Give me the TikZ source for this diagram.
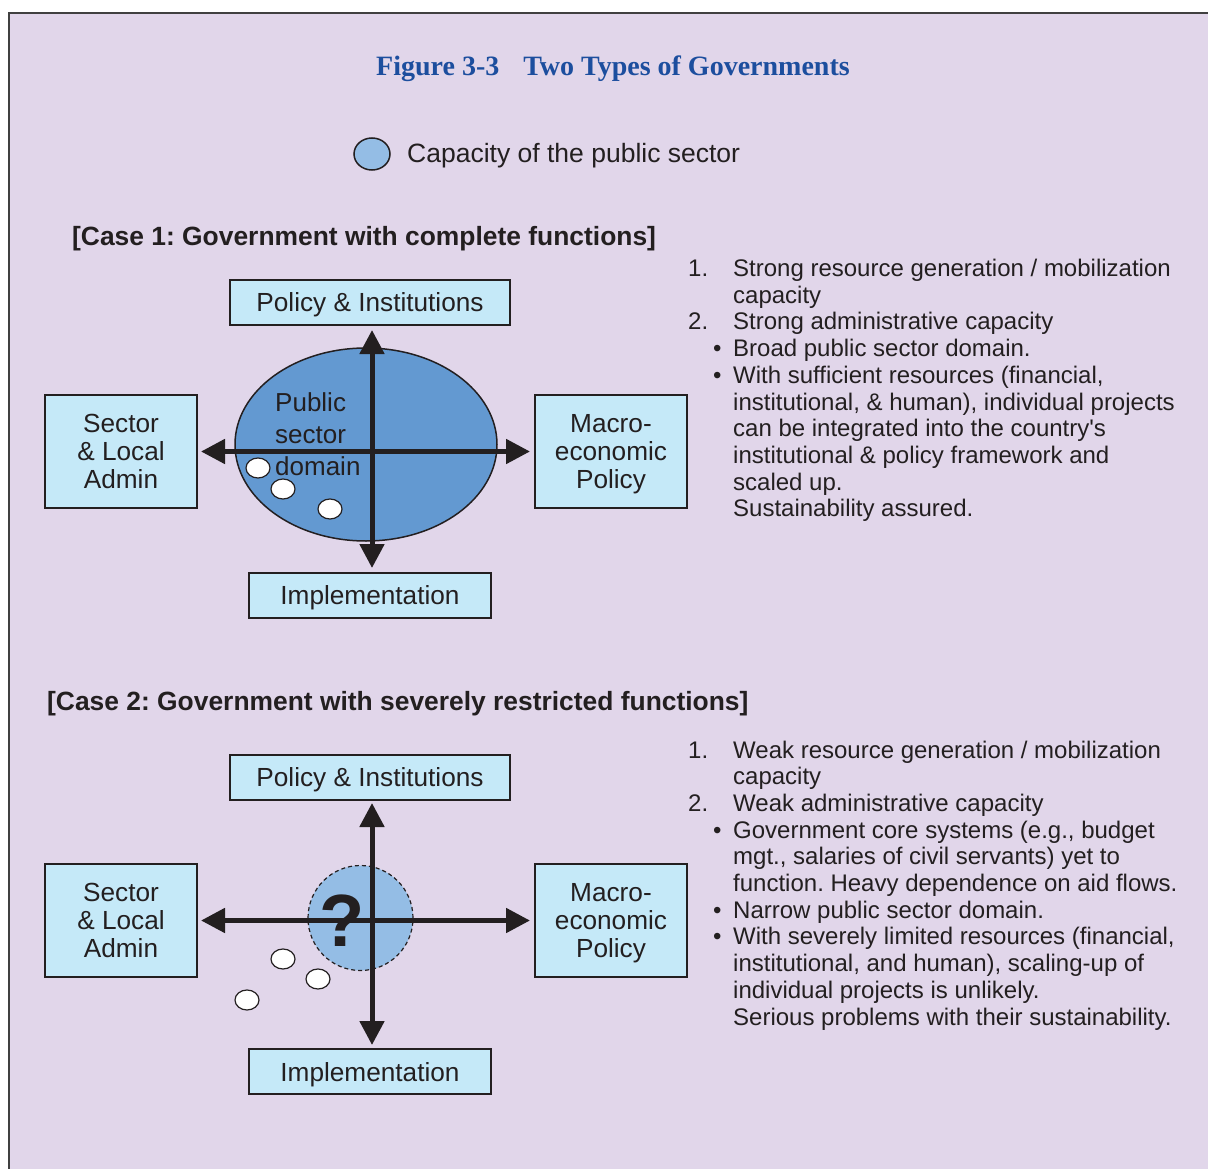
\documentclass[tikz,border=0pt]{standalone}
\usepackage{fontspec}
\setmainfont{Liberation Sans}
\newfontfamily\titlefont{Liberation Serif}
\usetikzlibrary{arrows.meta,shapes.geometric}
\definecolor{bgc}{RGB}{225,214,234}
\definecolor{boxc}{RGB}{197,233,248}
\definecolor{darkblue}{RGB}{99,153,209}
\definecolor{lightblue}{RGB}{148,189,229}
\definecolor{titlec}{RGB}{28,78,158}
\definecolor{txt}{RGB}{35,31,32}
\definecolor{framec}{RGB}{64,64,64}
\newcommand\myfs[2]{\fontsize{#1}{#2}\selectfont}
\frenchspacing
\begin{document}
\begin{tikzpicture}[x=1pt,y=-1pt,
  box/.style={draw=txt, line width=1.5pt, fill=boxc, text=txt, font=\myfs{26.2}{28}, align=center, inner sep=0pt, outer sep=0pt, text depth=0pt},
  wide/.style={box, minimum width=280pt, minimum height=45pt},
  impl/.style={box, minimum width=242pt, minimum height=45pt},
  side/.style={box, minimum width=152pt, minimum height=113pt},
  dot/.style={ellipse, draw=txt, line width=1.2pt, fill=white, minimum width=24pt, minimum height=20pt, inner sep=0pt},
  axis/.style={draw=txt, line width=5pt, {Triangle[length=24pt,width=24pt]}-{Triangle[length=24pt,width=24pt]}},
  lst/.style={anchor=base west, inner sep=0pt, text=txt, font=\myfs{24}{26}},
  head/.style={anchor=base west, inner sep=0pt, text=txt, font=\bfseries\myfs{26.4}{28}}
]
\useasboundingbox (0,0) rectangle (1208,1169);
\fill[white] (0,0) rectangle (1208,1169);
\fill[bgc] (9,13) rectangle (1208,1169);
\draw[framec, line width=2pt] (9,1169) -- (9,13) -- (1208,13);

% title
\node[anchor=base, inner sep=0pt, text=titlec, font=\titlefont\bfseries\myfs{28}{30}] (title) at (613,76) {Figure 3-3\hspace{24pt}Two Types of Governments};

% legend
\node[ellipse, draw=txt, line width=1.5pt, fill=lightblue, minimum width=36pt, minimum height=32pt, inner sep=0pt] (leg) at (372,154) {};
\node[anchor=base west, inner sep=0pt, text=txt, font=\myfs{26.5}{28}] (legt) at (407,163) {Capacity of the public sector};

% ---------- Case 1 ----------
\node[head] (h1) at (72,246) {[Case 1: Government with complete functions]};
\node[wide] (pol1) at (370,302.5) {Policy \& Institutions};
\node[side] (sec1) at (121,451.5) {Sector\\\& Local\\Admin};
\node[side] (mac1) at (611,451.5) {Macro-\\economic\\Policy};
\node[impl] (imp1) at (370,595.5) {Implementation};
\node[ellipse, draw=txt, line width=1.5pt, fill=darkblue, minimum width=262pt, minimum height=193pt, inner sep=0pt] (dom1) at (366,444.5) {};
\node[anchor=west, inner sep=0pt, align=left, text=txt, font=\myfs{26}{32}] (domt) at (275,434) {Public\\sector\\domain};
\node[dot] (d11) at (258,468) {};
\node[dot] (d12) at (283,489) {};
\node[dot] (d13) at (330,509) {};
\draw[axis, shorten <=5pt, shorten >=5pt] ([xshift=2pt]pol1.south) -- ([xshift=2pt]imp1.north);
\draw[axis, shorten <=4pt, shorten >=5pt] (sec1.east) -- (mac1.west);

\foreach \t [count=\i] in {{Strong resource generation / mobilization},{capacity},{Strong administrative capacity},{Broad public sector domain.},{With sufficient resources (financial,},{institutional, \& human), individual projects},{can be integrated into the country\textquotesingle s},{institutional \& policy framework and},{scaled up.},{Sustainability assured.}}
  \node[lst] (a\i) at (733,{276.5+26.7*(\i-1)}) {\t};
\node[lst] (an1) at (688,276.5) {1.};
\node[lst] (an2) at (688,{276.5+26.7*2}) {2.};
\node[lst] (ab1) at (713,{276.5+26.7*3}) {•};
\node[lst] (ab2) at (713,{276.5+26.7*4}) {•};

% ---------- Case 2 ----------
\node[head] (h2) at (47,710) {[Case 2: Government with severely restricted functions]};
\node[wide] (pol2) at (370,777.5) {Policy \& Institutions};
\node[side] (sec2) at (121,920.5) {Sector\\\& Local\\Admin};
\node[side] (mac2) at (611,920.5) {Macro-\\economic\\Policy};
\node[impl] (imp2) at (370,1071.5) {Implementation};
\node[circle, draw=txt, dash pattern=on 4pt off 3pt, line width=1.2pt, fill=lightblue, minimum size=105pt, inner sep=0pt] (dom2) at (360.5,918) {};
\node[dot] (d21) at (283,959) {};
\node[dot] (d22) at (318,979) {};
\node[dot] (d23) at (247,1000) {};
\draw[axis, shorten <=3pt, shorten >=4pt] ([xshift=2pt]pol2.south) -- ([xshift=2pt]imp2.north);
\draw[axis, shorten <=4pt, shorten >=5pt] (sec2.east) -- (mac2.west);
\node[inner sep=0pt, text=txt, font=\bfseries\myfs{74}{74}] (q) at (342,921) {?};

\foreach \t [count=\i] in {{Weak resource generation / mobilization},{capacity},{Weak administrative capacity},{Government core systems (e.g., budget},{mgt., salaries of civil servants) yet to},{function. Heavy dependence on aid flows.},{Narrow public sector domain.},{With severely limited resources (financial,},{institutional, and human), scaling-up of},{individual projects is unlikely.},{Serious problems with their sustainability.}}
  \node[lst] (b\i) at (733,{758+26.7*(\i-1)}) {\t};
\node[lst] (bn1) at (688,758) {1.};
\node[lst] (bn2) at (688,{758+26.7*2}) {2.};
\node[lst] (bb1) at (713,{758+26.7*3}) {•};
\node[lst] (bb2) at (713,{758+26.7*6}) {•};
\node[lst] (bb3) at (713,{758+26.7*7}) {•};
\end{tikzpicture}
\end{document}
